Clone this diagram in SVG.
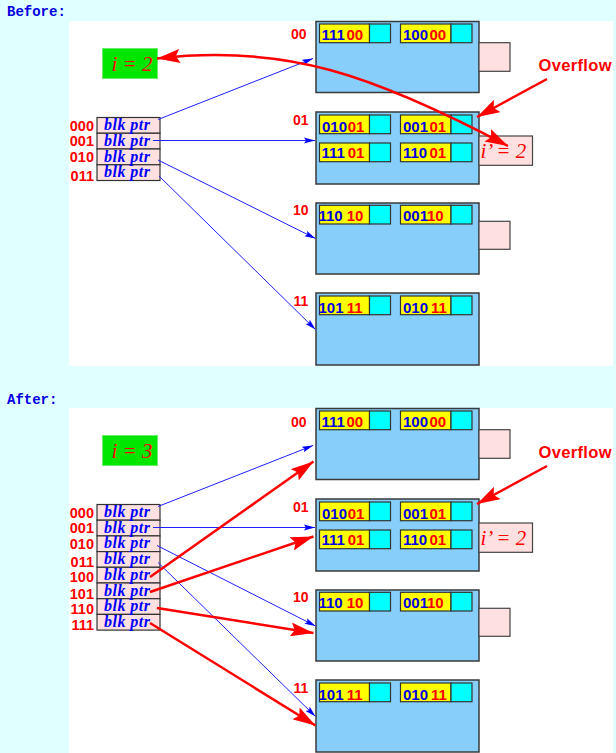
<svg xmlns="http://www.w3.org/2000/svg" width="616" height="753" viewBox="0 0 616 753">
<style>
.bucket{fill:#87cefa;stroke:#3a3a3a;stroke-width:1.5}
.key{fill:#ffff00;stroke:#333;stroke-width:1.2}
.ptr{fill:#00ffff;stroke:#333;stroke-width:1.2}
.ovf{fill:#ffe0e0;stroke:#444;stroke-width:1.2}
.cell{fill:#ffe0e0;stroke:#333;stroke-width:1.2}
.gbox{fill:#00e600;stroke:#66ee66;stroke-width:1}
.rt{font-family:"Liberation Sans",Arial,sans-serif;font-weight:bold;font-size:15px;fill:#0000e0}
.r{fill:#ff0000}
.lbl{font-family:"Liberation Sans",Arial,sans-serif;font-weight:bold;font-size:14px;fill:#ff0000}
.dl{font-family:"Liberation Sans",Arial,sans-serif;font-weight:bold;font-size:14.5px;fill:#ff0000;text-anchor:end}
.bp{font-family:"Liberation Serif","Times New Roman",serif;font-style:italic;font-weight:bold;font-size:16px;fill:#0000ff}
.math{font-family:"Liberation Serif","Times New Roman",serif;font-style:italic;font-size:21px;fill:#ff0000}
.hdr{font-family:"Liberation Mono","Courier New",monospace;font-weight:bold;font-size:14px;fill:#0000e0}
.ovt{font-family:"Liberation Sans",Arial,sans-serif;font-weight:bold;font-size:16.5px;fill:#ff0000}
.blue{stroke:#2020ff;stroke-width:1;fill:none;marker-end:url(#ab)}
.red{stroke:#ff0000;stroke-width:2.5;fill:none;marker-end:url(#ar)}
</style>
<defs>
<marker id="ab" markerUnits="userSpaceOnUse" markerWidth="11" markerHeight="7" viewBox="0 0 11 7" refX="11" refY="3.5" orient="auto"><path d="M0,0.5 L11,3.5 L0,6.5 L2,3.5 z" fill="#0000ff"/></marker>
<marker id="ar" markerUnits="userSpaceOnUse" markerWidth="23" markerHeight="14" viewBox="0 0 23 14" refX="23" refY="7" orient="auto-start-reverse"><path d="M0,0 L23,7 L0,14 L4,7 z" fill="#ff0000"/></marker>
</defs>
<rect x="0" y="0" width="616" height="753" fill="#e0ffff"/>
<rect x="69" y="21" width="544" height="345" fill="#ffffff"/>
<rect x="69" y="408" width="544" height="345" fill="#ffffff"/>
<text class="hdr" x="7" y="16">Before:</text>
<text class="hdr" x="7" y="403.5">After:</text>

<!-- ===== BEFORE ===== -->
<g id="before-global-depth">
<rect class="gbox" x="102.5" y="48.5" width="55" height="30"/>
<text class="math" x="111.5" y="70.5">i = 2</text>
</g>
<g id="before-directory">
<rect class="cell" x="97" y="117.5" width="63" height="15.75"/>
<rect class="cell" x="97" y="133.25" width="63" height="15.75"/>
<rect class="cell" x="97" y="149" width="63" height="15.75"/>
<rect class="cell" x="97" y="164.75" width="63" height="15.75"/>
<text class="bp" x="104" y="130" textLength="46">blk ptr</text>
<text class="bp" x="104" y="145.75" textLength="46">blk ptr</text>
<text class="bp" x="104" y="161.5" textLength="46">blk ptr</text>
<text class="bp" x="104" y="177.25" textLength="46">blk ptr</text>
<text class="dl" x="94" y="130.7">000</text>
<text class="dl" x="94" y="146">001</text>
<text class="dl" x="94" y="162">010</text>
<text class="dl" x="94" y="180.7">011</text>
</g>
<g id="before-bucket-00">
<text class="lbl" x="291" y="39.3">00</text>
<rect class="bucket" x="316" y="21.5" width="163" height="71"/>
<rect class="ovf" x="479" y="42.7" width="31" height="28.6"/>
<rect class="key" x="319.5" y="24" width="50" height="18.7"/><rect class="ptr" x="369.5" y="24" width="21" height="18.7"/>
<rect class="key" x="400.5" y="24" width="50.5" height="18.7"/><rect class="ptr" x="451" y="24" width="21" height="18.7"/>
<text class="rt" x="321.5" y="39.5">111<tspan class="r" x="346.5">00</tspan></text>
<text class="rt" x="403" y="39.5">100<tspan class="r" x="429.5">00</tspan></text>
</g>
<g id="before-bucket-01">
<text class="lbl" x="293" y="124.5">01</text>
<rect class="bucket" x="316" y="112" width="163" height="72"/>
<rect class="ovf" x="479" y="136" width="53.5" height="29.3"/>
<text class="math" x="480.5" y="157.5">i’ = 2</text>
<rect class="key" x="319.5" y="115" width="50" height="18.7"/><rect class="ptr" x="369.5" y="115" width="21" height="18.7"/>
<rect class="key" x="400.5" y="115" width="50.5" height="18.7"/><rect class="ptr" x="451" y="115" width="21" height="18.7"/>
<rect class="key" x="319.5" y="143" width="50" height="18.7"/><rect class="ptr" x="369.5" y="143" width="21" height="18.7"/>
<rect class="key" x="400.5" y="143" width="50.5" height="18.7"/><rect class="ptr" x="451" y="143" width="21" height="18.7"/>
<text class="rt" x="322" y="131.5">010<tspan class="r" x="347.7">01</tspan></text>
<text class="rt" x="403" y="131.5">001<tspan class="r" x="429.5">01</tspan></text>
<text class="rt" x="321.5" y="158">111<tspan class="r" x="347.7">01</tspan></text>
<text class="rt" x="403" y="158">110<tspan class="r" x="429.5">01</tspan></text>
</g>
<g id="before-bucket-10">
<text class="lbl" x="293" y="215">10</text>
<rect class="bucket" x="316" y="203" width="163" height="71"/>
<rect class="ovf" x="479" y="221.3" width="31" height="28"/>
<rect class="key" x="319.5" y="205.3" width="50" height="18.7"/><rect class="ptr" x="369.5" y="205.3" width="21" height="18.7"/>
<rect class="key" x="400.5" y="205.3" width="50.5" height="18.7"/><rect class="ptr" x="451" y="205.3" width="21" height="18.7"/>
<text class="rt" x="318.5" y="221">110<tspan class="r" x="346.7">10</tspan></text>
<text class="rt" x="403" y="221">001<tspan class="r" x="427">10</tspan></text>
</g>
<g id="before-bucket-11">
<text class="lbl" x="293.5" y="306">11</text>
<rect class="bucket" x="316" y="293" width="163" height="72"/>
<rect class="key" x="319.5" y="296" width="50" height="18.7"/><rect class="ptr" x="369.5" y="296" width="21" height="18.7"/>
<rect class="key" x="400.5" y="296" width="50.5" height="18.7"/><rect class="ptr" x="451" y="296" width="21" height="18.7"/>
<text class="rt" x="318.5" y="312.5">101<tspan class="r" x="346.7">11</tspan></text>
<text class="rt" x="403" y="312.5">010<tspan class="r" x="431">11</tspan></text>
</g>
<g id="before-overflow-label">
<text class="ovt" x="538.5" y="70.7" textLength="73">Overflow</text>
</g>

<!-- ===== AFTER ===== -->
<g id="after-global-depth">
<rect class="gbox" x="102.5" y="435.5" width="55" height="30"/>
<text class="math" x="111.5" y="457.5">i = 3</text>
</g>
<g id="after-directory">
<rect class="cell" x="97" y="504.5" width="63" height="15.7"/>
<rect class="cell" x="97" y="520.2" width="63" height="15.7"/>
<rect class="cell" x="97" y="535.9" width="63" height="15.7"/>
<rect class="cell" x="97" y="551.6" width="63" height="15.7"/>
<rect class="cell" x="97" y="567.3" width="63" height="15.7"/>
<rect class="cell" x="97" y="583" width="63" height="15.7"/>
<rect class="cell" x="97" y="598.7" width="63" height="15.7"/>
<rect class="cell" x="97" y="614.4" width="63" height="15.7"/>
<text class="bp" x="104" y="517" textLength="46">blk ptr</text>
<text class="bp" x="104" y="532.7" textLength="46">blk ptr</text>
<text class="bp" x="104" y="548.4" textLength="46">blk ptr</text>
<text class="bp" x="104" y="564.1" textLength="46">blk ptr</text>
<text class="bp" x="104" y="579.8" textLength="46">blk ptr</text>
<text class="bp" x="104" y="595.5" textLength="46">blk ptr</text>
<text class="bp" x="104" y="611.2" textLength="46">blk ptr</text>
<text class="bp" x="104" y="626.9" textLength="46">blk ptr</text>
<text class="dl" x="94" y="517.5">000</text>
<text class="dl" x="94" y="532.7">001</text>
<text class="dl" x="94" y="548.7">010</text>
<text class="dl" x="94" y="567.3">011</text>
<text class="dl" x="94" y="582.3">100</text>
<text class="dl" x="94" y="598.7">101</text>
<text class="dl" x="94" y="614">110</text>
<text class="dl" x="94" y="630">111</text>
</g>
<g id="after-bucket-00">
<text class="lbl" x="291" y="426.5">00</text>
<rect class="bucket" x="316" y="408.5" width="163" height="71"/>
<rect class="ovf" x="479" y="429.7" width="31" height="28.6"/>
<rect class="key" x="319.5" y="411" width="50" height="18.7"/><rect class="ptr" x="369.5" y="411" width="21" height="18.7"/>
<rect class="key" x="400.5" y="411" width="50.5" height="18.7"/><rect class="ptr" x="451" y="411" width="21" height="18.7"/>
<text class="rt" x="321.5" y="426.5">111<tspan class="r" x="346.5">00</tspan></text>
<text class="rt" x="403" y="426.5">100<tspan class="r" x="429.5">00</tspan></text>
</g>
<g id="after-bucket-01">
<text class="lbl" x="293" y="511.5">01</text>
<rect class="bucket" x="316" y="499" width="163" height="72"/>
<rect class="ovf" x="479" y="523" width="53.5" height="29.3"/>
<text class="math" x="480.5" y="544.5">i’ = 2</text>
<rect class="key" x="319.5" y="502" width="50" height="18.7"/><rect class="ptr" x="369.5" y="502" width="21" height="18.7"/>
<rect class="key" x="400.5" y="502" width="50.5" height="18.7"/><rect class="ptr" x="451" y="502" width="21" height="18.7"/>
<rect class="key" x="319.5" y="530" width="50" height="18.7"/><rect class="ptr" x="369.5" y="530" width="21" height="18.7"/>
<rect class="key" x="400.5" y="530" width="50.5" height="18.7"/><rect class="ptr" x="451" y="530" width="21" height="18.7"/>
<text class="rt" x="322" y="518.5">010<tspan class="r" x="347.7">01</tspan></text>
<text class="rt" x="403" y="518.5">001<tspan class="r" x="429.5">01</tspan></text>
<text class="rt" x="321.5" y="545">111<tspan class="r" x="347.7">01</tspan></text>
<text class="rt" x="403" y="545">110<tspan class="r" x="429.5">01</tspan></text>
</g>
<g id="after-bucket-10">
<text class="lbl" x="293" y="602">10</text>
<rect class="bucket" x="316" y="590" width="163" height="71"/>
<rect class="ovf" x="479" y="608.3" width="31" height="28"/>
<rect class="key" x="319.5" y="592.3" width="50" height="18.7"/><rect class="ptr" x="369.5" y="592.3" width="21" height="18.7"/>
<rect class="key" x="400.5" y="592.3" width="50.5" height="18.7"/><rect class="ptr" x="451" y="592.3" width="21" height="18.7"/>
<text class="rt" x="318.5" y="608">110<tspan class="r" x="346.7">10</tspan></text>
<text class="rt" x="403" y="608">001<tspan class="r" x="427">10</tspan></text>
</g>
<g id="after-bucket-11">
<text class="lbl" x="293.5" y="693">11</text>
<rect class="bucket" x="316" y="680" width="163" height="72"/>
<rect class="key" x="319.5" y="683" width="50" height="18.7"/><rect class="ptr" x="369.5" y="683" width="21" height="18.7"/>
<rect class="key" x="400.5" y="683" width="50.5" height="18.7"/><rect class="ptr" x="451" y="683" width="21" height="18.7"/>
<text class="rt" x="318.5" y="699.5">101<tspan class="r" x="346.7">11</tspan></text>
<text class="rt" x="403" y="699.5">010<tspan class="r" x="431">11</tspan></text>
</g>
<g id="after-overflow-label">
<text class="ovt" x="538.5" y="457.7" textLength="73">Overflow</text>
</g>

<g id="connectors">
<!-- before -->
<line class="blue" x1="158" y1="119.5" x2="313" y2="58.5"/>
<line class="blue" x1="153" y1="140.5" x2="315" y2="140.5"/>
<line class="blue" x1="158" y1="160" x2="315.5" y2="238.5"/>
<line class="blue" x1="159" y1="176" x2="315.5" y2="329.5"/>
<path class="red" style="marker-start:url(#ar)" d="M157,58.5 Q250,48 330,70 Q400,89 508,146"/>
<line class="red" x1="547" y1="79" x2="477" y2="117"/>
<!-- after -->
<line class="blue" x1="158" y1="506.5" x2="313" y2="445.5"/>
<line class="blue" x1="153" y1="527.5" x2="315" y2="527.5"/>
<line class="blue" x1="157" y1="545.5" x2="315.5" y2="626"/>
<line class="blue" x1="158" y1="562.5" x2="315.5" y2="716.5"/>
<line class="red" x1="150" y1="577" x2="313.5" y2="461.5"/>
<line class="red" x1="150" y1="592" x2="313.5" y2="536.5"/>
<line class="red" x1="157" y1="608" x2="313.5" y2="633"/>
<line class="red" x1="150" y1="623" x2="315.5" y2="725.5"/>
<line class="red" x1="547" y1="466" x2="477" y2="504"/>
</g>
</svg>
